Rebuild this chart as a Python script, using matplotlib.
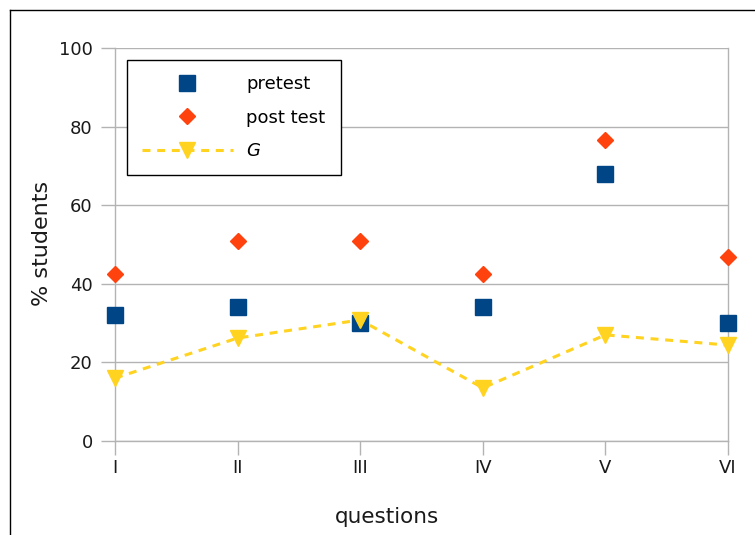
import matplotlib.pyplot as plt
from matplotlib.lines import Line2D

# ---------------------------------
# Data
# ---------------------------------
questions = ["I", "II", "III", "IV", "V", "VI"]
pretest = [32, 34, 30, 34, 68, 30]
post_test = [42.6, 51, 51, 42.6, 76.6, 46.8]
gain = [16, 26.2, 30.8, 13.5, 27, 24.4]

BLUE = "#004586"
ORANGE = "#ff420e"
YELLOW = "#ffd320"
GRID = "#b3b3b3"

plt.rcParams["font.family"] = ["DejaVu Sans"]

W, H = 755, 535
fig = plt.figure(figsize=(W / 100, H / 100), dpi=100)
ax = fig.add_axes([115 / W, (H - 441) / H, (728 - 115) / W, (441 - 48) / H])

x = list(range(len(questions)))

ax.plot(x, pretest, linestyle="none", marker="s", markersize=12,
        color=BLUE, label="pretest", clip_on=False, zorder=3)
ax.plot(x, post_test, linestyle="none", marker="D", markersize=8.5,
        color=ORANGE, label="post test", clip_on=False, zorder=3)
ax.plot(x, gain, linestyle=(0, (2.6, 2.2)), linewidth=2.2, marker="v",
        markersize=12, color=YELLOW, label="G", clip_on=False, zorder=4)

ax.set_xlim(0, 5)
ax.set_ylim(0, 100)
ax.set_xticks(x)
ax.set_xticklabels(questions)
ax.set_yticks([0, 20, 40, 60, 80, 100])

ax.yaxis.grid(True, color=GRID, linewidth=1)
ax.set_axisbelow(True)
for side in ["left", "bottom", "right"]:
    ax.spines[side].set_color(GRID)
    ax.spines[side].set_linewidth(1)
ax.spines["top"].set_visible(False)

ax.tick_params(axis="both", colors=GRID, labelcolor="#1a1a1a",
               labelsize=13, length=10, width=1, direction="out")
ax.tick_params(axis="x", pad=3)
ax.tick_params(axis="y", pad=6)

# axis titles placed where the reference has them
ax.set_xlabel("questions", fontsize=15.5, color="#1a1a1a")
ax.xaxis.set_label_coords((387 - 115) / 613, (441 - 517) / 393)
ax.xaxis.label.set_va("center")
ax.set_ylabel("% students", fontsize=16, color="#1a1a1a")
ax.yaxis.set_label_coords((42 - 115) / 613, (441 - 243) / 393)
ax.yaxis.label.set_va("center")

leg = ax.legend(loc="upper left", bbox_to_anchor=(12 / 613, (441 - 60) / 393),
                numpoints=1, fontsize=13, frameon=True, fancybox=False,
                framealpha=1, edgecolor="black", handlelength=5.0,
                handletextpad=0.75, borderpad=0.85, labelspacing=0.85,
                borderaxespad=0)
leg.get_frame().set_linewidth(1)
leg.get_texts()[2].set_fontstyle("italic")

# outer frame of the picture (only left and top visible)
fig.add_artist(Line2D([10 / W, 10 / W], [0, 1 - 10 / H], color="black", linewidth=1))
fig.add_artist(Line2D([10 / W, 1], [1 - 10 / H, 1 - 10 / H], color="black", linewidth=1))

fig.savefig("out.png", dpi=100)
